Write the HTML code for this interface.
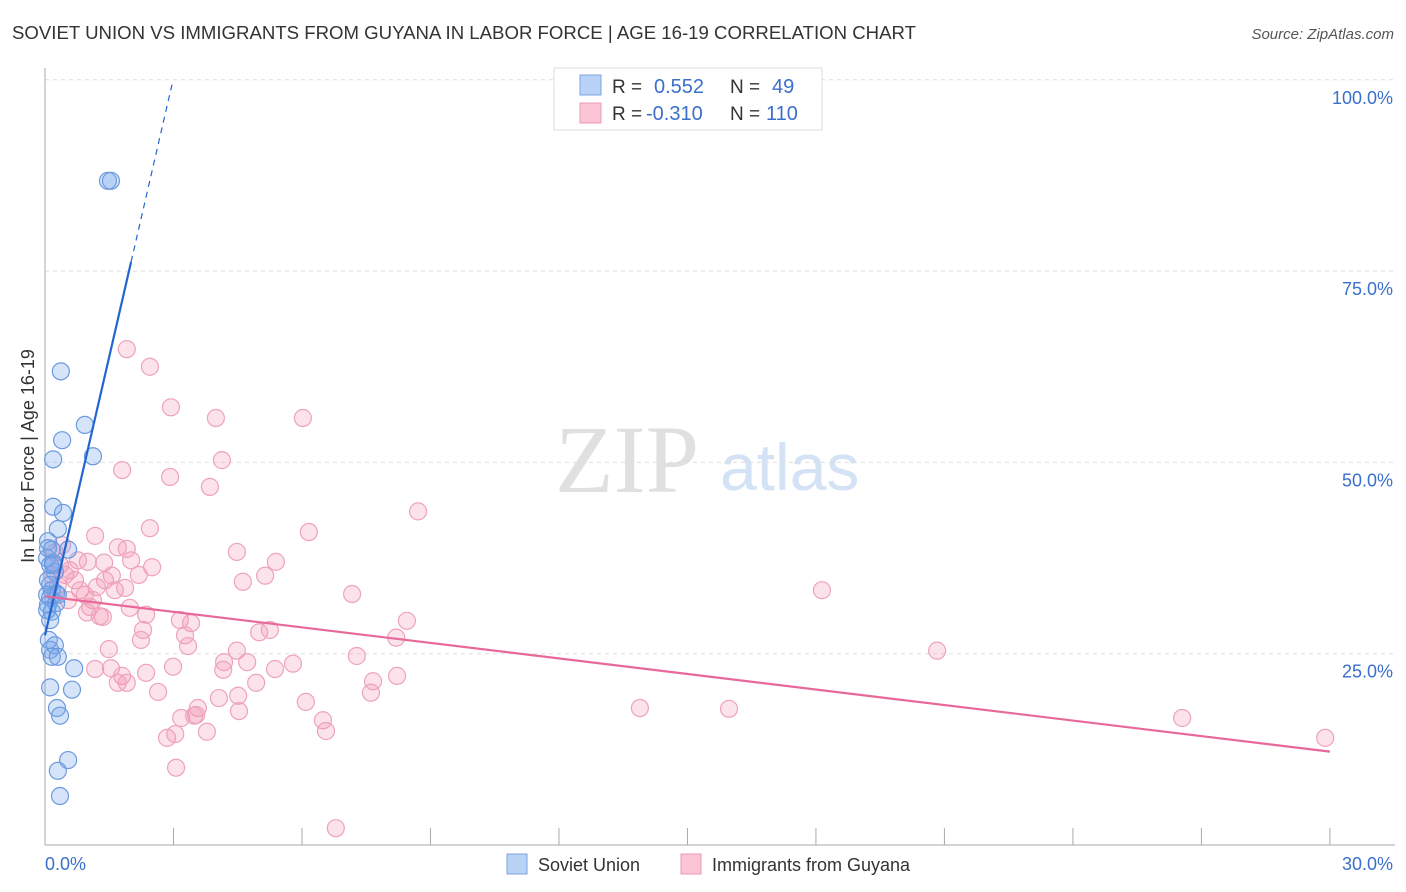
<!DOCTYPE html>
<html><head><meta charset="utf-8"><style>
body{margin:0;background:#fff;font-family:"Liberation Sans",sans-serif;}
svg{display:block}
</style></head><body>
<svg id="c" width="1406" height="892" xmlns="http://www.w3.org/2000/svg">
<text x="12" y="39" font-size="18" fill="#333" textLength="904" lengthAdjust="spacingAndGlyphs">SOVIET UNION VS IMMIGRANTS FROM GUYANA IN LABOR FORCE | AGE 16-19 CORRELATION CHART</text>
<text x="1394" y="39" font-size="15" fill="#555" font-style="italic" text-anchor="end">Source: ZipAtlas.com</text>
<g>
<text x="555" y="492" font-size="96" font-family="Liberation Serif,serif" fill="#e0e0e0">ZIP</text>
<text x="720" y="490" font-size="66" fill="#d3e2f4">atlas</text>
</g>
<g id="grid"></g>
<g id="axes"></g>
<g id="pts"></g>
<g id="lines"></g>
<text transform="translate(34,456) rotate(-90)" font-size="18" fill="#333" text-anchor="middle">In Labor Force | Age 16-19</text>
<g>
<rect x="554" y="68" width="268" height="62" fill="#fff" stroke="#ddd"/>
<rect x="580" y="75" width="21" height="20" fill="#b8d3f5" stroke="#7aa6e0"/>
<rect x="580" y="103" width="21" height="20" fill="#fbc5d5" stroke="#eb9ab4"/>
<text x="612" y="93" font-size="19" fill="#333">R =</text>
<text x="654" y="93" font-size="20" fill="#3a6fcc">0.552</text>
<text x="730" y="93" font-size="19" fill="#333">N =</text>
<text x="772" y="93" font-size="20" fill="#3a6fcc">49</text>
<text x="612" y="120" font-size="19" fill="#333">R =</text>
<text x="646" y="120" font-size="20" fill="#3a6fcc">-0.310</text>
<text x="730" y="120" font-size="19" fill="#333">N =</text>
<text x="766" y="120" font-size="20" fill="#3a6fcc">110</text>
</g>
<g>
<rect x="507" y="854" width="20" height="20" fill="#b8d3f5" stroke="#7aa6e0"/>
<text x="538" y="871" font-size="18" fill="#333">Soviet Union</text>
<rect x="681" y="854" width="20" height="20" fill="#fbc5d5" stroke="#eb9ab4"/>
<text x="712" y="871" font-size="18" fill="#333">Immigrants from Guyana</text>
</g>
</svg>
<script>
const yTicks=[25,50,75,100];
const yTickLabels=["25.0%","50.0%","75.0%","100.0%"];
const xTicks=[3,6,9,12,15,18,21,24,27,30];
const sovietX=[1.47,1.54,0.37,0.93,0.40,0.19,1.12,0.19,0.42,0.30,0.07,0.16,0.54,0.05,0.12,0.23,0.07,0.16,0.26,0.12,0.26,0.07,0.16,0.12,0.23,0.12,0.16,0.30,0.68,0.12,0.63,0.28,0.35,0.54,0.30,0.35,0.07,0.19,0.12,0.05,0.30,0.05,0.19,0.09];
const sovietY=[86.8,86.8,61.9,54.9,52.9,50.4,50.8,44.2,43.4,41.3,39.7,38.6,38.6,37.5,36.6,35.7,34.6,33.3,32.9,32.3,31.6,31.4,30.5,29.4,26.1,25.5,24.6,24.6,23.1,20.6,20.3,17.9,16.9,11.1,9.7,6.4,38.8,36.9,34.0,32.7,32.7,30.7,36.6,26.8];
const guyanaX=[1.91,2.45,2.94,3.99,6.02,4.13,2.92,1.80,3.85,8.71,1.17,2.45,6.16,1.70,1.91,4.48,2.01,2.50,5.39,1.00,1.38,5.14,4.62,2.19,1.56,1.40,7.17,18.14,1.21,1.63,1.87,1.12,1.05,0.98,1.28,1.35,1.98,2.36,3.15,8.45,3.41,2.29,3.27,5.25,5.00,2.24,8.20,3.34,1.49,4.48,1.17,1.54,2.99,5.79,4.18,4.72,5.37,7.28,1.80,2.36,8.22,4.16,1.91,1.70,4.93,7.66,7.61,2.64,4.51,4.06,6.09,3.57,3.53,4.53,3.18,3.48,6.49,6.56,3.78,2.85,3.04,3.06,6.79,13.89,15.97,20.83,26.55,29.89,0.23,0.35,0.47,0.30,0.58,0.70,0.82,0.54,0.93,0.40,0.77,0.16];
const guyanaY=[64.8,62.5,57.2,55.8,55.8,50.3,48.1,49.0,46.8,43.6,40.4,41.4,40.9,38.9,38.7,38.3,37.2,36.3,37.0,37.0,36.9,35.2,34.4,35.3,35.2,34.6,32.8,33.3,33.7,33.3,33.6,32.0,31.1,30.4,29.9,29.8,31.0,30.1,29.4,29.3,29.0,28.1,27.4,28.1,27.8,26.8,27.1,26.0,25.6,25.4,23.0,23.1,23.3,23.7,23.9,23.9,23.0,24.7,22.1,22.5,22.1,22.9,21.2,21.2,21.2,21.4,19.9,20.0,19.5,19.2,18.7,17.9,17.0,17.5,16.6,16.9,16.3,14.9,14.8,14.0,14.5,10.1,2.2,17.9,17.8,25.4,16.6,14.0,38.2,36.6,35.3,34.0,35.9,34.6,33.3,32.0,32.7,39.2,37.2,35.3];
const sovietTrend=[[0,27.4],[2.01,76.2]];
const sovietDash=[[2.01,76.2],[2.97,99.5]];
const guyanaTrend=[[0,32.5],[30,12.2]];
const NS="http://www.w3.org/2000/svg";
const X=v=>45+v*42.83, Y=v=>845-v*7.652;
function mk(t,a,p){const e=document.createElementNS(NS,t);for(const k in a)e.setAttribute(k,a[k]);p.appendChild(e);return e;}
const grid=document.getElementById('grid'),axes=document.getElementById('axes'),pts=document.getElementById('pts'),lines=document.getElementById('lines');
yTicks.forEach((t,i)=>{
 const g=mk('line',{x1:45,x2:1395,y1:Y(t),y2:Y(t),stroke:'#ddd','stroke-dasharray':'4,4'},grid);
 
 
 const l=mk('text',{x:1393,y:Y(t)+24,'font-size':18,fill:'#3a6fcc','text-anchor':'end'},axes);
 l.textContent=yTickLabels[i];
 
 
});
const ya=mk('line',{x1:45,x2:45,y1:68,y2:845,stroke:'#aaa'},axes);


const xa=mk('line',{x1:45,x2:1395,y1:845,y2:845,stroke:'#aaa'},axes);


xTicks.forEach(t=>{
 const k=mk('line',{x1:X(t),x2:X(t),y1:828,y2:845,stroke:'#aaa'},axes);
 
 
});
const x0=mk('text',{x:45,y:870,'font-size':18,fill:'#3a6fcc'},axes);x0.textContent='0.0%';


const x1=mk('text',{x:1393,y:870,'font-size':18,fill:'#3a6fcc','text-anchor':'end'},axes);x1.textContent='30.0%';


guyanaX.forEach((x,i)=>{
 const c=mk('circle',{cx:X(x),cy:Y(guyanaY[i]),r:8.5,fill:'rgba(245,150,180,0.28)',stroke:'#eea3bb','stroke-width':1.2},pts);
 
 
});
sovietX.forEach((x,i)=>{
 const c=mk('circle',{cx:X(x),cy:Y(sovietY[i]),r:8.5,fill:'rgba(120,165,235,0.3)',stroke:'#6b9ade','stroke-width':1.2},pts);
 
 
});
const tb=mk('line',{x1:X(sovietTrend[0][0]),y1:Y(sovietTrend[0][1]),x2:X(sovietTrend[1][0]),y2:Y(sovietTrend[1][1]),stroke:'#2466d0','stroke-width':2.2},lines);


const td=mk('line',{x1:X(sovietDash[0][0]),y1:Y(sovietDash[0][1]),x2:X(sovietDash[1][0]),y2:Y(sovietDash[1][1]),stroke:'#2466d0','stroke-width':1.2,'stroke-dasharray':'6,5'},lines);


const tp=mk('line',{x1:X(guyanaTrend[0][0]),y1:Y(guyanaTrend[0][1]),x2:X(guyanaTrend[1][0]),y2:Y(guyanaTrend[1][1]),stroke:'#e8689a','stroke-width':2.2},lines);


</script>
</body></html>
